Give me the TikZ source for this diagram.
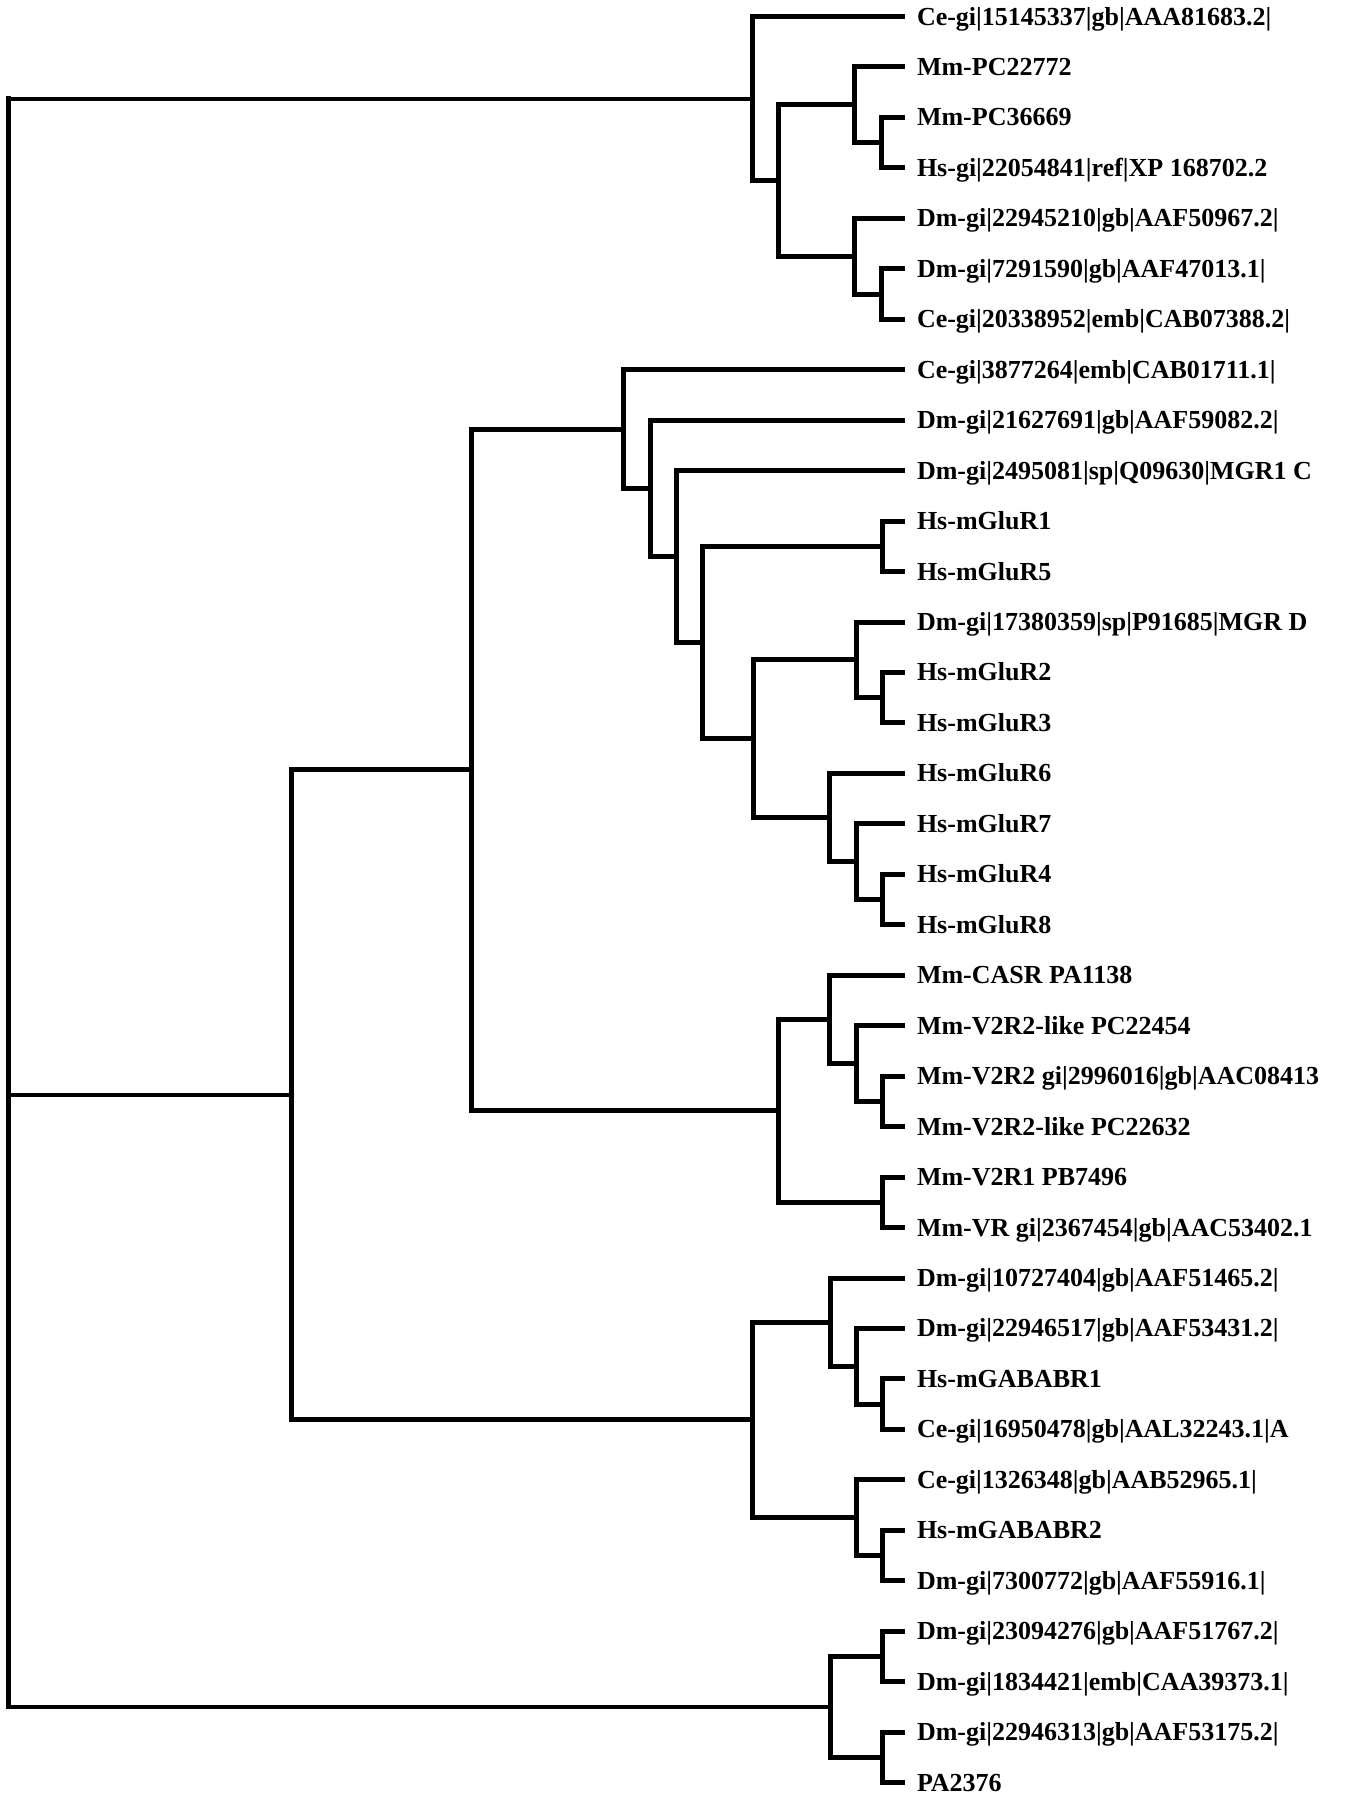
\documentclass[tikz,border=0pt]{standalone}
\usepackage{fontspec}
\setmainfont{Liberation Serif}
\usetikzlibrary{calc}
\newcommand\clade[4]{%
  \coordinate (#1mid) at ($(#3)!0.5!(#4)$);
  \coordinate (#1xx) at (#2,0);
  \coordinate (#1) at (#1mid -| #1xx);
  \draw[branch] (#3) -| (#1) |- (#4);
}
\begin{document}
\begin{tikzpicture}[x=1pt,y=-1pt,
  leaf/.style={anchor=west, inner xsep=12pt, inner ysep=0pt, outer sep=0pt,
    text height=17pt, text depth=0pt, font=\fontsize{26}{30}\selectfont\bfseries},
  branch/.style={line width=5pt, line join=miter},
  rootv/.style={line width=5pt, line cap=rect},
  rooth/.style={line width=4pt}]
\useasboundingbox[fill=white] (0,0) rectangle (1346,1800);
\foreach \t [count=\i] in {
Ce-gi|15145337|gb|AAA81683.2|,
Mm-PC22772,
Mm-PC36669,
Hs-gi|22054841|ref|XP 168702.2,
Dm-gi|22945210|gb|AAF50967.2|,
Dm-gi|7291590|gb|AAF47013.1|,
Ce-gi|20338952|emb|CAB07388.2|,
Ce-gi|3877264|emb|CAB01711.1|,
Dm-gi|21627691|gb|AAF59082.2|,
Dm-gi|2495081|sp|Q09630|MGR1 C,
Hs-mGluR1,
Hs-mGluR5,
Dm-gi|17380359|sp|P91685|MGR D,
Hs-mGluR2,
Hs-mGluR3,
Hs-mGluR6,
Hs-mGluR7,
Hs-mGluR4,
Hs-mGluR8,
Mm-CASR PA1138,
Mm-V2R2-like PC22454,
Mm-V2R2 gi|2996016|gb|AAC08413,
Mm-V2R2-like PC22632,
Mm-V2R1 PB7496,
Mm-VR gi|2367454|gb|AAC53402.1,
Dm-gi|10727404|gb|AAF51465.2|,
Dm-gi|22946517|gb|AAF53431.2|,
Hs-mGABABR1,
Ce-gi|16950478|gb|AAL32243.1|A,
Ce-gi|1326348|gb|AAB52965.1|,
Hs-mGABABR2,
Dm-gi|7300772|gb|AAF55916.1|,
Dm-gi|23094276|gb|AAF51767.2|,
Dm-gi|1834421|emb|CAA39373.1|,
Dm-gi|22946313|gb|AAF53175.2|,
PA2376}
  \node[leaf] (l\i) at (905,{16.5+50.46*(\i-1)}) {\t};
% top clade
\clade{A5}{881}{l3.west}{l4.west}
\clade{A3}{854}{l2.west}{A5}
\clade{A6}{881}{l6.west}{l7.west}
\clade{A4}{854}{l5.west}{A6}
\clade{A2}{778}{A3}{A4}
\clade{A}{752}{l1.west}{A2}
% mGluR clade
\clade{G15}{882}{l11.west}{l12.west}
\clade{G23}{882}{l14.west}{l15.west}
\clade{G2}{856}{l13.west}{G23}
\clade{G48}{882}{l18.west}{l19.west}
\clade{G7}{856}{l17.west}{G48}
\clade{Bf}{829}{l16.west}{G7}
\clade{Be}{753}{G2}{Bf}
\clade{Bd}{702}{G15}{Be}
\clade{Bc}{676}{l10.west}{Bd}
\clade{Bb}{650}{l9.west}{Bc}
\clade{Ba}{623}{l8.west}{Bb}
% V2R clade
\clade{V3}{882}{l22.west}{l23.west}
\clade{V2}{856}{l21.west}{V3}
\clade{V1}{829}{l20.west}{V2}
\clade{V4}{882}{l24.west}{l25.west}
\clade{V}{778}{V1}{V4}
\clade{B1}{471}{Ba}{V}
% GABA clade
\clade{Gd}{882}{l28.west}{l29.west}
\clade{Gc}{856}{l27.west}{Gd}
\clade{Ga}{830}{l26.west}{Gc}
\clade{Ge}{882}{l31.west}{l32.west}
\clade{Gb}{856}{l30.west}{Ge}
\clade{B2}{752}{Ga}{Gb}
\clade{B}{291}{B1}{B2}
% bottom clade
\clade{C1}{882}{l33.west}{l34.west}
\clade{C2}{882}{l35.west}{l36.west}
\clade{C}{830}{C1}{C2}
% root
\coordinate (R) at (8.5,0);
\draw[rootv] (A -| R) -- (C -| R);
\draw[rooth] (A) -- (A -| R);
\draw[rooth] (B) -- (B -| R);
\draw[rooth] (C) -- (C -| R);
\end{tikzpicture}
\end{document}
